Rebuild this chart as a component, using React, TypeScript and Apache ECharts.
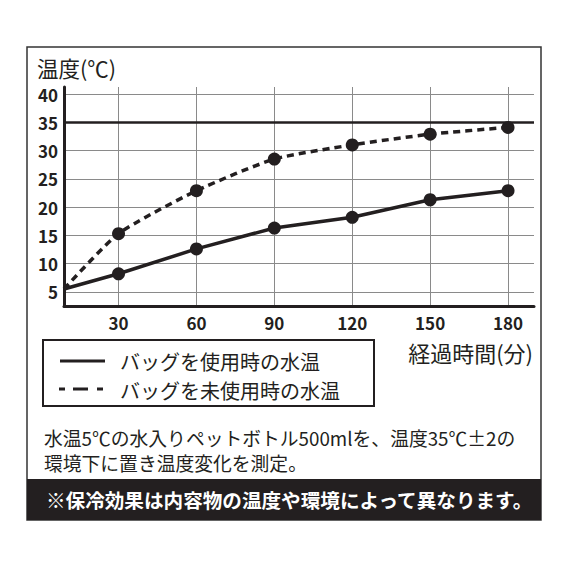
import React, { useEffect, useRef } from "react";
import * as echarts from "echarts";

// 経過時間(分) — the first reading sits on the y axis
const minutes = [9, 30, 60, 90, 120, 150, 180];
// バッグを使用時の水温
const withBag = [5.5, 8.2, 12.6, 16.3, 18.2, 21.3, 22.9];
// バッグを未使用時の水温
const withoutBag = [5.5, 15.3, 22.9, 28.5, 31.0, 32.9, 34.1];
const xTicks = [30, 60, 90, 120, 150, 180];
const yTicks = [5, 10, 15, 20, 25, 30, 35, 40];
const ambientTemp = 35;

const seriesNames = ["バッグを使用時の水温", "バッグを未使用時の水温"];
const noteLines = [
  "水温5℃の水入りペットボトル500mlを、温度35℃±2の",
  "環境下に置き温度変化を測定。",
];
const bannerText = "※保冷効果は内容物の温度や環境によって異なります。";

const INK = "#231f20";
const FONT = '"Noto Sans CJK JP", "Noto Sans", sans-serif';

// first point has no dot (it sits on the axis)
const toPoints = (vals: number[]) =>
  minutes.map((m, i) =>
    i === 0 ? { value: [m, vals[i]], symbol: "none" } : { value: [m, vals[i]] }
  );

export default function App() {
  const chartRef = useRef<HTMLDivElement>(null);

  useEffect(() => {
    if (!chartRef.current) return;
    const chart = echarts.init(chartRef.current, undefined, { renderer: "svg" });

    const option: echarts.EChartsOption = {
      animation: false,
      backgroundColor: "#fff",
      textStyle: { fontFamily: FONT },
      grid: {
        left: 64,
        right: 36,
        top: 87,
        bottom: 264,
        containLabel: false,
        outerBoundsMode: "none",
      } as any,
      xAxis: {
        type: "value",
        min: 9,
        max: 190,
        axisLine: { show: true, onZero: false, lineStyle: { color: INK, width: 3 } },
        axisTick: { show: false, customValues: xTicks } as any,
        axisLabel: {
          customValues: xTicks,
          color: INK,
          fontSize: 17,
          fontWeight: 600,
          fontFamily: FONT,
          margin: 8,
        } as any,
        splitLine: { show: true, lineStyle: { color: "#8a8a8a", width: 1 } },
      },
      yAxis: {
        type: "value",
        min: 2.5,
        max: 41.25,
        axisLine: { show: true, onZero: false, lineStyle: { color: INK, width: 3 } },
        axisTick: { show: false, customValues: yTicks } as any,
        axisLabel: {
          customValues: yTicks,
          color: INK,
          fontSize: 17,
          fontWeight: 600,
          fontFamily: FONT,
          margin: 6,
        } as any,
        splitLine: { show: true, lineStyle: { color: "#8a8a8a", width: 1 } },
      },
      series: [
        {
          name: seriesNames[0],
          type: "line",
          data: toPoints(withBag) as any,
          symbol: "circle",
          symbolSize: 13,
          itemStyle: { color: INK },
          lineStyle: { color: INK, width: 3.5 },
          z: 3,
          markLine: {
            silent: true,
            symbol: "none",
            label: { show: false },
            lineStyle: { color: INK, width: 2.5, type: "solid" },
            data: [{ yAxis: ambientTemp }],
          },
        },
        {
          name: seriesNames[1],
          type: "line",
          data: toPoints(withoutBag) as any,
          smooth: 0.2,
          symbol: "circle",
          symbolSize: 13,
          itemStyle: { color: INK },
          lineStyle: { color: INK, width: 3.5, type: [7, 5] },
          z: 3,
        },
      ],
      graphic: [
        {
          type: "rect",
          shape: { x: 27, y: 47, width: 514, height: 473 },
          style: { fill: "none", stroke: "#333", lineWidth: 1.5 },
          silent: true,
        },
        {
          type: "text",
          x: 37,
          y: 67,
          style: {
            text: "温度(℃)",
            fill: INK,
            font: `400 21.5px ${FONT}`,
            lineHeight: 22,
            verticalAlign: "middle",
          },
        },
        {
          type: "text",
          x: 533,
          y: 352,
          style: {
            text: "経過時間(分)",
            fill: INK,
            font: `400 22px ${FONT}`,
            lineHeight: 22,
            textAlign: "right",
            verticalAlign: "middle",
          },
        },
        {
          type: "rect",
          shape: { x: 43, y: 340, width: 331, height: 66 },
          style: { fill: "none", stroke: INK, lineWidth: 2 },
        },
        {
          type: "line",
          shape: { x1: 60, y1: 361, x2: 105, y2: 361 },
          style: { stroke: INK, lineWidth: 3 },
        },
        {
          type: "text",
          x: 120,
          y: 361,
          style: {
            text: seriesNames[0],
            fill: INK,
            font: `400 20px ${FONT}`,
            lineHeight: 20,
            verticalAlign: "middle",
          },
        },
        {
          type: "line",
          shape: { x1: 59, y1: 389, x2: 103, y2: 389 },
          style: { stroke: INK, lineWidth: 3, lineDash: [6, 8, 15, 9] },
        },
        {
          type: "text",
          x: 120,
          y: 390,
          style: {
            text: seriesNames[1],
            fill: INK,
            font: `400 20px ${FONT}`,
            lineHeight: 20,
            verticalAlign: "middle",
          },
        },
        ...noteLines.map((t, i) => ({
          type: "text" as const,
          x: 44,
          y: 437 + i * 25,
          style: {
            text: t,
            fill: INK,
            font: `400 18.8px ${FONT}`,
            lineHeight: 20,
            verticalAlign: "middle" as const,
          },
        })),
        {
          type: "rect",
          shape: { x: 27, y: 479, width: 514, height: 41 },
          style: { fill: INK },
        },
        {
          type: "text",
          x: 46,
          y: 499,
          style: {
            text: bannerText,
            fill: "#fff",
            font: `700 19.6px ${FONT}`,
            verticalAlign: "middle",
          },
        },
      ],
    };

    chart.setOption(option);
    return () => chart.dispose();
  }, []);

  return (
    <div
      ref={chartRef}
      style={{ position: "absolute", left: 0, top: 0, width: 570, height: 570 }}
    />
  );
}
